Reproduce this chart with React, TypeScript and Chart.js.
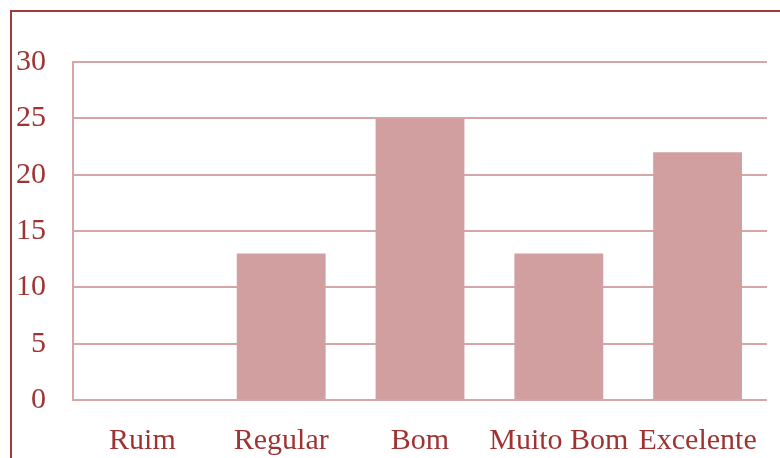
import React, { useEffect, useRef } from "react";
import { Chart, registerables } from "chart.js";

Chart.register(...registerables);

const categories = ["Ruim", "Regular", "Bom", "Muito Bom", "Excelente"];
const counts = [0, 13, 25, 13, 22];
const yTicks = [0, 5, 10, 15, 20, 25, 30];

const TEXT = "#9F3333";
const FRAME = "#A33A3A";
const BAR = "#D19F9F";
const GRID = "#D6A6A6";
const FONT = "'Liberation Serif', 'Times New Roman', serif";

export default function App() {
  const ref = useRef<HTMLCanvasElement | null>(null);

  useEffect(() => {
    document.body.style.margin = "0";
    if (!ref.current) return;
    const chart = new Chart(ref.current, {
      type: "bar",
      data: {
        labels: categories,
        datasets: [
          {
            data: counts,
            backgroundColor: BAR,
            borderWidth: 0,
            categoryPercentage: 1,
            barPercentage: 0.64,
          },
        ],
      },
      options: {
        animation: false,
        responsive: false,
        devicePixelRatio: 1,
        layout: { padding: { top: 62, right: 13, bottom: 0, left: 0 } },
        plugins: { legend: { display: false }, tooltip: { enabled: false } },
        scales: {
          x: {
            grid: { display: false },
            border: { display: false },
            ticks: {
              color: TEXT,
              font: { family: FONT, size: 30 },
              padding: 15,
              maxRotation: 0,
              autoSkip: false,
            },
            afterFit: (s: any) => {
              s.height = 58;
            },
          },
          y: {
            min: 0,
            max: 30,
            afterBuildTicks: (s: any) => {
              s.ticks = yTicks.map((v) => ({ value: v }));
            },
            grid: { color: GRID, lineWidth: 2, drawTicks: false },
            border: { display: true, color: GRID, width: 2 },
            ticks: {
              color: TEXT,
              font: { family: FONT, size: 30 },
              padding: 27,
            },
            afterFit: (s: any) => {
              s.width = 73;
            },
          },
        },
      },
    });
    return () => chart.destroy();
  }, []);

  return (
    <div style={{ position: "fixed", left: 0, top: 0, width: 780, height: 458, overflow: "hidden", background: "#fff" }}>
      <canvas ref={ref} width={780} height={458} style={{ position: "absolute", left: 0, top: 0, width: 780, height: 458 }} />
      <div
        style={{
          position: "absolute",
          left: 10,
          top: 10,
          width: 820,
          height: 500,
          border: `2px solid ${FRAME}`,
          pointerEvents: "none",
        }}
      />
    </div>
  );
}
